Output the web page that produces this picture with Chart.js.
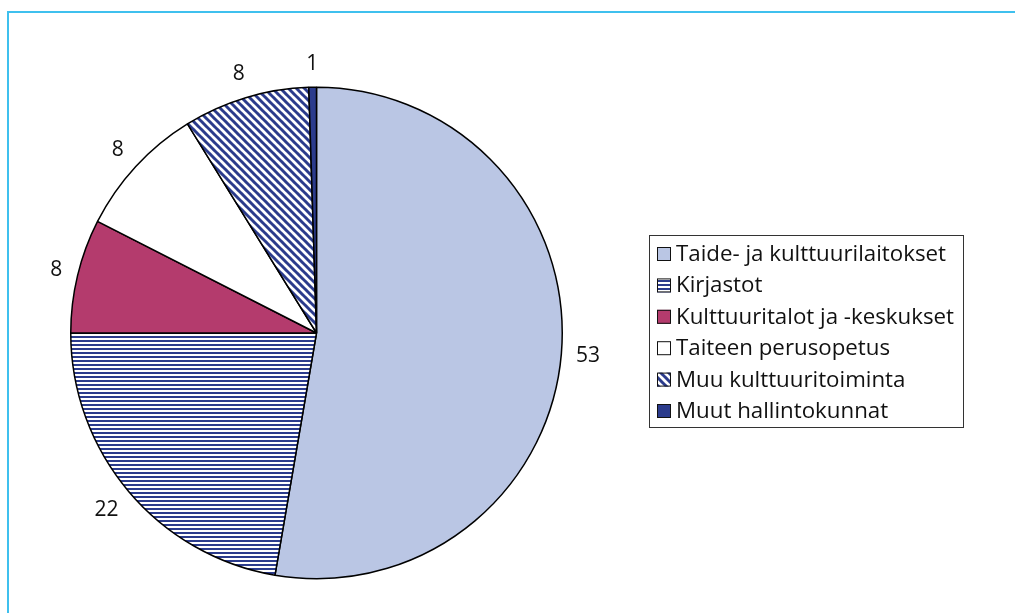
<!DOCTYPE html>
<html>
<head>
<meta charset="utf-8">
<script src="https://cdn.jsdelivr.net/npm/chart.js@4.4.1/dist/chart.umd.min.js"></script>
<style>
  html, body { margin: 0; padding: 0; background: #fff; }
  #wrap { position: relative; width: 1015px; height: 613px; overflow: hidden; }
  #frame { position: absolute; left: 7px; top: 11px; right: -5px; bottom: -5px;
           border-top: 2px solid #3fc0ee; border-left: 2px solid #3fc0ee; }
  canvas { position: absolute; left: 0; top: 0; }
</style>
</head>
<body>
<div id="wrap">
  <div id="frame"></div>
  <canvas id="pie" width="1015" height="613"></canvas>
</div>
<script>
// categories and values (share %) plus the printed labels
const categories = [
  'Taide- ja kulttuurilaitokset',
  'Kirjastot',
  'Kulttuuritalot ja -keskukset',
  'Taiteen perusopetus',
  'Muu kulttuuritoiminta',
  'Muut hallintokunnat'
];
const shares = [52.7, 22.3, 7.5, 8.7, 8.3, 0.5];
const shownValues = ['53', '22', '8', '8', '8', '1'];

const DARK_BLUE = '#2b3b8c';
const FONT = '"Open Sans", "Noto Sans", sans-serif';

// stripe patterns like the old office fills
function hStripes() {
  const c = document.createElement('canvas');
  c.width = 4; c.height = 4;
  const g = c.getContext('2d');
  g.fillStyle = '#fff';
  g.fillRect(0, 0, 4, 4);
  g.fillStyle = DARK_BLUE;
  g.fillRect(0, 0, 4, 2);
  return g.createPattern(c, 'repeat');
}

function diagStripes() {
  const s = 8;
  const c = document.createElement('canvas');
  c.width = s; c.height = s;
  const g = c.getContext('2d');
  g.fillStyle = '#fff';
  g.fillRect(0, 0, s, s);
  g.strokeStyle = DARK_BLUE;
  g.lineWidth = 3;
  for (let k = -1; k <= 1; k++) {
    g.beginPath();
    g.moveTo(k * s - 1, -1);
    g.lineTo(k * s + s + 1, s + 1);
    g.stroke();
  }
  return g.createPattern(c, 'repeat');
}

const fills = ['#bac6e4', hStripes(), '#b43b6d', '#ffffff', diagStripes(), DARK_BLUE];

// value labels just outside the pie
const outsideLabels = {
  id: 'outsideLabels',
  afterDatasetsDraw(chart) {
    const ctx = chart.ctx;
    const arcs = chart.getDatasetMeta(0).data;
    ctx.save();
    ctx.font = '21px ' + FONT;
    ctx.fillStyle = '#111';
    ctx.textAlign = 'center';
    ctx.textBaseline = 'middle';
    arcs.forEach((arc, i) => {
      const p = arc.getProps(['x', 'y', 'startAngle', 'endAngle', 'outerRadius'], true);
      const mid = (p.startAngle + p.endAngle) / 2;
      const cx = Math.cos(mid), sy = Math.sin(mid);
      const w = ctx.measureText(shownValues[i]).width;
      const d = p.outerRadius + 14 + Math.abs(cx) * w / 2 + Math.abs(sy) * 9;
      ctx.fillText(shownValues[i], p.x + cx * d, p.y + sy * d);
    });
    ctx.restore();
  }
};

// boxed legend on the right
const boxLegend = {
  id: 'boxLegend',
  afterDraw(chart) {
    const ctx = chart.ctx;
    const left = 649.5, top = 235.5, width = 314, height = 192;
    ctx.save();
    ctx.fillStyle = '#fff';
    ctx.fillRect(left, top, width, height);
    ctx.strokeStyle = '#333';
    ctx.lineWidth = 1;
    ctx.strokeRect(left, top, width, height);

    // stretch/squeeze the text so the longest entry matches the reference width
    ctx.font = '22px ' + FONT;
    const sx = 270 / ctx.measureText(categories[0]).width;
    ctx.textBaseline = 'alphabetic';
    ctx.textAlign = 'left';

    categories.forEach((name, i) => {
      const base = 261 + i * 31.4;
      ctx.fillStyle = fills[i];
      ctx.fillRect(657, base - 14, 14, 14);
      ctx.strokeStyle = '#111';
      ctx.strokeRect(657.5, base - 13.5, 13, 13);
      ctx.save();
      ctx.translate(676, base);
      ctx.scale(sx, 1);
      ctx.fillStyle = '#111';
      ctx.fillText(name, 0, 0);
      ctx.restore();
    });
    ctx.restore();
  }
};

new Chart(document.getElementById('pie'), {
  type: 'pie',
  data: {
    labels: categories,
    datasets: [{
      data: shares,
      backgroundColor: fills,
      borderColor: '#000',
      borderWidth: 1.5
    }]
  },
  options: {
    responsive: false,
    animation: false,
    layout: { padding: { left: 70, right: 452, top: 86, bottom: 33 } },
    plugins: {
      legend: { display: false },
      tooltip: { enabled: false }
    }
  },
  plugins: [outsideLabels, boxLegend]
});
</script>
</body>
</html>
